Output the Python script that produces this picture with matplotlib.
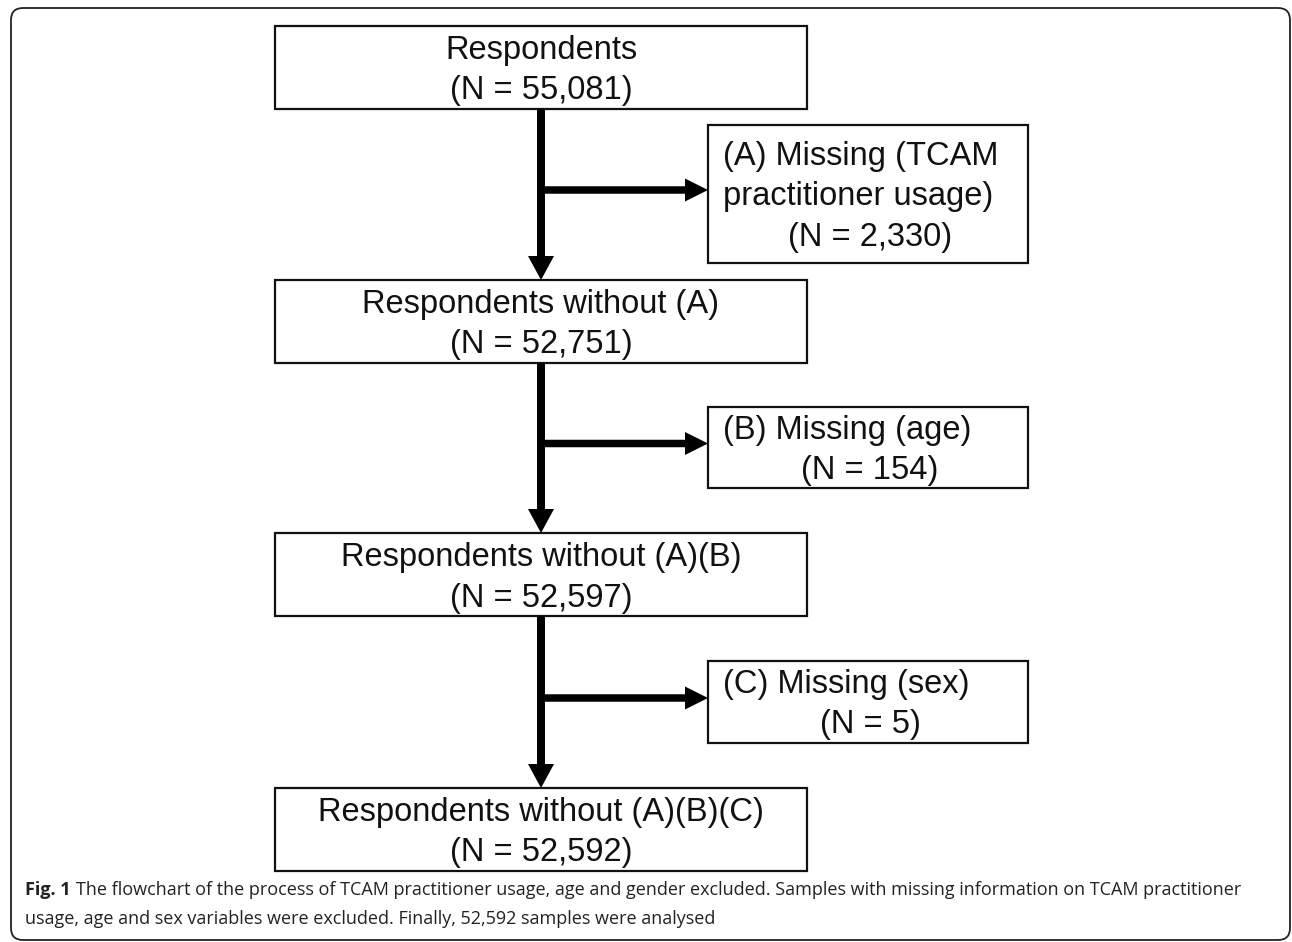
import matplotlib.pyplot as plt
from matplotlib.patches import Rectangle, FancyArrow, FancyBboxPatch

# flowchart content
main_labels = ['Respondents', 'Respondents without (A)',
               'Respondents without (A)(B)', 'Respondents without (A)(B)(C)']
main_n = [55081, 52751, 52597, 52592]
excl_labels = [['(A) Missing (TCAM', 'practitioner usage)'],
               ['(B) Missing (age)'],
               ['(C) Missing (sex)']]
excl_n = [2330, 154, 5]

caption_bold = 'Fig. 1'
caption_line1 = ('The flowchart of the process of TCAM practitioner usage, age and gender '
                 'excluded. Samples with missing information on TCAM practitioner')
caption_line2 = ('usage, age and sex variables were excluded. Finally, 52,592 samples '
                 'were analysed')

# layout in pixels (y downwards)
W, H = 1292, 942
MAIN_X0, MAIN_X1 = 275, 807
MAIN_TOPS = [26, 280, 533, 788]
MAIN_H = 83
SIDE_X0, SIDE_X1 = 708, 1028
SIDE_TOPS = [125, 407, 661]
SIDE_HS = [138, 81, 82]
SHAFT_X = 541
BOX_FONT = ['Liberation Sans', 'DejaVu Sans']
BOX_SIZE = 23.5
LINE_GAP = 40.5

fig = plt.figure(figsize=(W / 100, H / 100), dpi=100)
ax = fig.add_axes([0, 0, 1, 1])
ax.set_xlim(0, W)
ax.set_ylim(H, 0)
ax.axis('off')

# outer frame
ax.add_patch(FancyBboxPatch((11, 8), 1279, 932, boxstyle='round,pad=0,rounding_size=12',
                            fill=False, lw=1.3, ec='#222222'))

def nLabel(n):
    return '(N = {:,})'.format(n)

# main boxes
for i, (label, n) in enumerate(zip(main_labels, main_n)):
    top = MAIN_TOPS[i]
    ax.add_patch(Rectangle((MAIN_X0, top), MAIN_X1 - MAIN_X0, MAIN_H,
                           fill=False, lw=1.6, ec='#111111'))
    cx = (MAIN_X0 + MAIN_X1) / 2
    ax.text(cx, top + 33, label, ha='center', va='baseline',
            fontsize=BOX_SIZE, family=BOX_FONT, color='#111111')
    ax.text(cx, top + 33 + LINE_GAP, nLabel(n), ha='center', va='baseline',
            fontsize=BOX_SIZE, family=BOX_FONT, color='#111111')

# side boxes with excluded counts
for i, (lines, n) in enumerate(zip(excl_labels, excl_n)):
    top = SIDE_TOPS[i]
    h = SIDE_HS[i]
    ax.add_patch(Rectangle((SIDE_X0, top), SIDE_X1 - SIDE_X0, h,
                           fill=False, lw=1.6, ec='#111111'))
    base = top + 40 if len(lines) > 1 else top + 32
    for j, line in enumerate(lines):
        ax.text(SIDE_X0 + 15, base + j * LINE_GAP, line, ha='left', va='baseline',
                fontsize=BOX_SIZE, family=BOX_FONT, color='#111111')
    ax.text((SIDE_X0 + SIDE_X1) / 2 + 2, base + len(lines) * LINE_GAP, nLabel(n),
            ha='center', va='baseline', fontsize=BOX_SIZE, family=BOX_FONT, color='#111111')

# vertical arrows between main boxes
for i in range(len(MAIN_TOPS) - 1):
    y0 = MAIN_TOPS[i] + MAIN_H
    y1 = MAIN_TOPS[i + 1]
    ax.add_patch(FancyArrow(SHAFT_X, y0, 0, y1 - y0, width=8, head_width=26,
                            head_length=24, length_includes_head=True, color='black', lw=0))

# horizontal branches to side boxes
for i in range(len(SIDE_TOPS)):
    by = SIDE_TOPS[i] + SIDE_HS[i] / 2 - 4
    ax.add_patch(FancyArrow(SHAFT_X, by, SIDE_X0 - SHAFT_X, 0, width=7.5, head_width=23,
                            head_length=23, length_includes_head=True, color='black', lw=0))

# caption
CAP_FONT = ['Open Sans', 'DejaVu Sans']
CAP_SIZE = 13.0
fig.canvas.draw()
r = fig.canvas.get_renderer()
tb = ax.text(25, 895, caption_bold, ha='left', va='baseline', fontsize=CAP_SIZE,
             family=CAP_FONT, weight='bold', color='#222222')
bb = tb.get_window_extent(renderer=r)
x_after = bb.x1 + 5
ax.text(x_after, 895, caption_line1, ha='left', va='baseline', fontsize=CAP_SIZE,
        family=CAP_FONT, color='#222222')
ax.text(25, 924, caption_line2, ha='left', va='baseline', fontsize=CAP_SIZE,
        family=CAP_FONT, color='#222222')

fig.savefig('out.png', dpi=100)
